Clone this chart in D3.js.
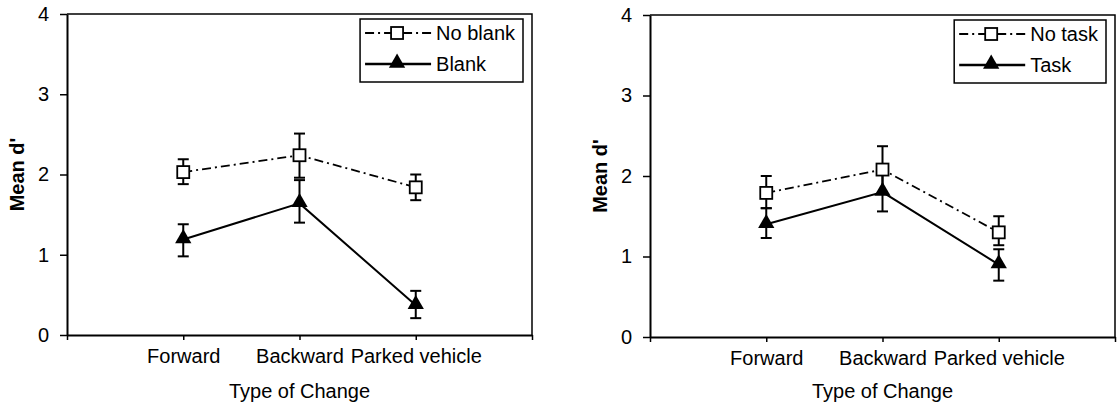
<!DOCTYPE html>
<html>
<head>
<meta charset="utf-8">
<script src="https://cdn.jsdelivr.net/npm/d3@7"></script>
<style>
  body { margin: 0; background: #fff; }
  svg text { font-family: "Liberation Sans", Arial, sans-serif; fill: #000; }
</style>
</head>
<body>
<div id="chart"></div>
<script>
// data
var categories = ["Forward", "Backward", "Parked vehicle"];
var yTicks = [0, 1, 2, 3, 4];

// left panel
var noBlankMean = [2.03, 2.24, 1.84];
var noBlankLow  = [1.88, 1.96, 1.68];
var noBlankHigh = [2.19, 2.51, 2.00];
var blankMean   = [1.19, 1.64, 0.37];
var blankLow    = [0.98, 1.40, 0.21];
var blankHigh   = [1.38, 1.93, 0.55];

// right panel
var noTaskMean = [1.79, 2.08, 1.30];
var noTaskLow  = [1.60, 1.80, 1.14];
var noTaskHigh = [2.00, 2.37, 1.50];
var taskMean   = [1.40, 1.80, 0.90];
var taskLow    = [1.23, 1.56, 0.70];
var taskHigh   = [1.60, 2.04, 1.09];

var W = 1118, H = 408;
var FONT = 20;
var LEG_FONT = 20;
var dashDot = "9,4,2,4";

var svg = d3.select("#chart")
  .append("svg")
  .attr("width", W)
  .attr("height", H);

function makeSeries(name, mean, low, high, dashed) {
  return {
    name: name,
    dashed: dashed,
    points: mean.map(function(m, i) {
      return {pos: i + 1, mean: m, low: low[i], high: high[i]};
    })
  };
}

function drawPanel(opts) {
  var g = svg.append("g");
  var x = d3.scaleLinear().domain([0, 4]).range([opts.x0, opts.x1]);
  var y = d3.scaleLinear().domain([0, 4]).range([opts.yBottom, opts.yTop]);

  // plot frame (top and right)
  g.append("path")
    .attr("d", "M" + opts.x0 + "," + opts.yTop + "H" + opts.x1 + "V" + opts.yBottom)
    .attr("fill", "none")
    .attr("stroke", "#000")
    .attr("stroke-width", 1.5);

  // y axis
  var yAxis = g.append("g")
    .attr("transform", "translate(" + opts.x0 + ",0)")
    .call(d3.axisLeft(y).tickValues(yTicks).tickSize(7).tickSizeOuter(0).tickPadding(11).tickFormat(d3.format("d")));
  yAxis.select(".domain").attr("stroke-width", 2);
  yAxis.selectAll(".tick line").attr("stroke-width", 1.5);
  yAxis.selectAll("text").attr("font-size", FONT).attr("font-family", null);

  // x axis, categories sit on 1..3
  var xAxis = g.append("g")
    .attr("transform", "translate(0," + opts.yBottom + ")")
    .call(d3.axisBottom(x).tickValues([0, 1, 2, 3, 4]).tickSize(5).tickSizeOuter(0).tickPadding(9)
      .tickFormat(function(d) { return categories[d - 1] || ""; }));
  xAxis.select(".domain").attr("stroke-width", 2);
  xAxis.selectAll(".tick line").attr("stroke-width", 1.5);
  xAxis.selectAll("text").attr("font-size", FONT).attr("font-family", null);

  // axis titles
  g.append("text")
    .attr("x", (opts.x0 + opts.x1) / 2)
    .attr("y", 398)
    .attr("text-anchor", "middle")
    .attr("font-size", FONT)
    .text("Type of Change");

  g.append("text")
    .attr("transform", "translate(" + opts.titleX + "," + ((opts.yTop + opts.yBottom) / 2) + ") rotate(-90)")
    .attr("text-anchor", "middle")
    .attr("dy", "0.35em")
    .attr("font-size", FONT)
    .attr("font-weight", "bold")
    .text("Mean d'");

  var line = d3.line()
    .x(function(d) { return x(d.pos); })
    .y(function(d) { return y(d.mean); });

  var tri = d3.symbol().type(d3.symbolTriangle).size(115);

  // error bars
  opts.series.forEach(function(s) {
    var eb = g.append("g").selectAll("g")
      .data(s.points)
      .enter()
      .append("g")
      .attr("stroke", "#000")
      .attr("stroke-width", 2);
    eb.append("line")
      .attr("x1", function(d) { return x(d.pos); })
      .attr("x2", function(d) { return x(d.pos); })
      .attr("y1", function(d) { return y(d.low); })
      .attr("y2", function(d) { return y(d.high); });
    eb.append("line")
      .attr("x1", function(d) { return x(d.pos) - 5.5; })
      .attr("x2", function(d) { return x(d.pos) + 5.5; })
      .attr("y1", function(d) { return y(d.low); })
      .attr("y2", function(d) { return y(d.low); });
    eb.append("line")
      .attr("x1", function(d) { return x(d.pos) - 5.5; })
      .attr("x2", function(d) { return x(d.pos) + 5.5; })
      .attr("y1", function(d) { return y(d.high); })
      .attr("y2", function(d) { return y(d.high); });
  });

  // lines
  opts.series.forEach(function(s) {
    g.append("path")
      .datum(s.points)
      .attr("d", line)
      .attr("fill", "none")
      .attr("stroke", "#000")
      .attr("stroke-width", s.dashed ? 1.8 : 2)
      .attr("stroke-dasharray", s.dashed ? dashDot : null);
  });

  // markers
  opts.series.forEach(function(s) {
    var m = g.append("g").selectAll("path")
      .data(s.points)
      .enter();
    if (s.dashed) {
      m.append("rect")
        .attr("x", function(d) { return x(d.pos) - 6; })
        .attr("y", function(d) { return y(d.mean) - 6; })
        .attr("width", 12)
        .attr("height", 12)
        .attr("fill", "#fff")
        .attr("stroke", "#000")
        .attr("stroke-width", 1.8);
    } else {
      m.append("path")
        .attr("d", tri)
        .attr("transform", function(d) { return "translate(" + x(d.pos) + "," + (y(d.mean) - 1) + ")"; })
        .attr("fill", "#000");
    }
  });

  // legend
  var lg = g.append("g");
  var labels = lg.selectAll("text.lbl")
    .data(opts.series)
    .enter()
    .append("text")
    .attr("class", "lbl")
    .attr("font-size", LEG_FONT)
    .attr("dy", "0.35em")
    .text(function(d) { return d.name; });
  var maxW = d3.max(labels.nodes(), function(n) { return n.getComputedTextLength(); });
  var boxRight = opts.x1 - 9;
  var textX = boxRight - 8 - maxW;
  var boxLeft = textX - 76;
  var rowY = [opts.yTop + 19, opts.yTop + 50];

  lg.insert("rect", "text")
    .attr("x", boxLeft)
    .attr("y", opts.yTop + 5)
    .attr("width", boxRight - boxLeft)
    .attr("height", 63)
    .attr("fill", "#fff")
    .attr("stroke", "#000")
    .attr("stroke-width", 1.5);

  labels.attr("x", textX).attr("y", function(d, i) { return rowY[i]; });

  opts.series.forEach(function(s, i) {
    var cx = boxLeft + 37;
    lg.append("line")
      .attr("x1", boxLeft + 5)
      .attr("x2", textX - 5)
      .attr("y1", rowY[i])
      .attr("y2", rowY[i])
      .attr("stroke", "#000")
      .attr("stroke-width", s.dashed ? 1.8 : 2.5)
      .attr("stroke-dasharray", s.dashed ? dashDot : null);
    if (s.dashed) {
      lg.append("rect")
        .attr("x", cx - 6)
        .attr("y", rowY[i] - 6)
        .attr("width", 12)
        .attr("height", 12)
        .attr("fill", "#fff")
        .attr("stroke", "#000")
        .attr("stroke-width", 1.8);
    } else {
      lg.append("path")
        .attr("d", tri)
        .attr("transform", "translate(" + cx + "," + (rowY[i] - 1) + ")")
        .attr("fill", "#000");
    }
  });
}

drawPanel({
  x0: 67, x1: 532, yTop: 14, yBottom: 335, titleX: 17,
  series: [
    makeSeries("No blank", noBlankMean, noBlankLow, noBlankHigh, true),
    makeSeries("Blank", blankMean, blankLow, blankHigh, false)
  ]
});

drawPanel({
  x0: 650, x1: 1115, yTop: 15, yBottom: 337, titleX: 600,
  series: [
    makeSeries("No task", noTaskMean, noTaskLow, noTaskHigh, true),
    makeSeries("Task", taskMean, taskLow, taskHigh, false)
  ]
});
</script>
</body>
</html>
